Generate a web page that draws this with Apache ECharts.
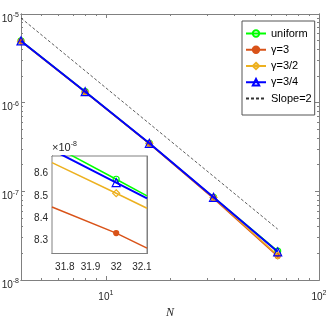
<!DOCTYPE html>
<html><head><meta charset="utf-8">
<script src="https://cdn.jsdelivr.net/npm/echarts@6/dist/echarts.min.js"></script>
<style>html,body{margin:0;padding:0;background:#fff}#c{width:332px;height:316px}</style>
</head><body><div id="c"></div>
<script>
// ---- data ----
const N = [4, 8, 16, 32, 64];
const errUniform = [4.98e-6, 1.33e-6, 3.48e-7, 8.575e-8, 2.12e-8];
const errGamma3  = [4.95e-6, 1.32e-6, 3.45e-7, 8.33e-8, 1.86e-8];
const errGamma32 = [4.90e-6, 1.32e-6, 3.46e-7, 8.51e-8, 1.90e-8];
const errGamma34 = [4.97e-6, 1.33e-6, 3.48e-7, 8.56e-8, 2.08e-8];
const slopeN   = [4, 64];
const slopeErr = [9.0e-6, 3.75e-8];
// inset (values in units of 1e-8)
const insetN       = [31.75, 32, 32.12];
const insetUniform = [8.73, 8.575, 8.50];
const insetGamma3  = [8.45, 8.332, 8.264];
const insetGamma32 = [8.65, 8.512, 8.444];
const insetGamma34 = [8.708, 8.56, 8.489];
const seriesNames = ['uniform', 'γ=3', 'γ=3/2', 'γ=3/4', 'Slope=2'];
const xMajor = [10, 100];
const yMajor = [1e-8, 1e-7, 1e-6, 1e-5];
const insetXLabels = [31.8, 31.9, 32, 32.1];
const insetYLabels = [8.3, 8.4, 8.5, 8.6];

// ---- tick helpers ----
function logMinor(lo, hi) {
  const out = [];
  for (let e = Math.floor(Math.log10(lo)); e <= Math.ceil(Math.log10(hi)); e++) {
    for (let m = 2; m <= 9; m++) {
      const v = m * Math.pow(10, e);
      if (v >= lo * 0.999 && v <= hi * 1.001) out.push(v);
    }
  }
  return out;
}
function linTicks(lo, hi, step) {
  const out = [];
  for (let k = Math.ceil(lo / step - 1e-6); k * step <= hi + 1e-9; k++) out.push(+(k * step).toFixed(4));
  return out;
}
const X_MIN = 4, X_MAX = 100, Y_MIN = 1e-8, Y_MAX = 1e-5;
const IX_MIN = 31.75, IX_MAX = 32.12, IY_MIN = 8.24, IY_MAX = 8.68;

const FONT = 'Liberation Sans';
const AXC = '#808080';
const LBL = '#262626';
const rich = {
  b: { fontSize: 10, fontFamily: FONT, color: LBL },
  s: { fontSize: 7, fontFamily: FONT, color: LBL, padding: [0, 0, 7, 0] }
};
const powFmt = v => '{b|10}{s|' + Math.round(Math.log10(v)) + '}';

function mkAxis(kind, gridIndex, type, min, max, pos, ticks, len, labels, extra) {
  const a = {
    type: type, gridIndex: gridIndex, min: min, max: max, position: pos,
    axisLine: { show: true, lineStyle: { color: AXC, width: 1 } },
    axisTick: { show: true, inside: true, length: len, customValues: ticks, lineStyle: { color: AXC, width: 1 } },
    axisLabel: labels ? Object.assign({ show: true }, labels) : { show: false },
    splitLine: { show: false }, minorTick: { show: false }, minorSplitLine: { show: false }
  };
  if (type === 'log') a.logBase = 10;
  return Object.assign(a, extra || {});
}

const xAxes = [
  mkAxis('x', 0, 'log', X_MIN, X_MAX, 'bottom', xMajor, 4,
    { customValues: xMajor, formatter: powFmt, rich: rich, margin: 10 },
    { name: 'N', nameLocation: 'middle', nameGap: 25,
      nameTextStyle: { fontFamily: 'Liberation Serif', fontStyle: 'italic', fontSize: 12, color: LBL } }),
  mkAxis('x', 0, 'log', X_MIN, X_MAX, 'bottom', logMinor(X_MIN, X_MAX), 2, null),
  mkAxis('x', 0, 'log', X_MIN, X_MAX, 'top', xMajor, 4, null),
  mkAxis('x', 0, 'log', X_MIN, X_MAX, 'top', logMinor(X_MIN, X_MAX), 2, null),
  mkAxis('x', 1, 'value', IX_MIN, IX_MAX, 'bottom', insetXLabels, 3,
    { customValues: insetXLabels, fontSize: 10, fontFamily: FONT, color: LBL, margin: 9,
      formatter: v => String(+v.toFixed(2)) }),
  mkAxis('x', 1, 'value', IX_MIN, IX_MAX, 'bottom', linTicks(IX_MIN, IX_MAX, 0.02), 2, null),
  mkAxis('x', 1, 'value', IX_MIN, IX_MAX, 'top', linTicks(IX_MIN, IX_MAX, 0.02), 2, null)
];
const yAxes = [
  mkAxis('y', 0, 'log', Y_MIN, Y_MAX, 'left', yMajor, 4,
    { customValues: yMajor, formatter: powFmt, rich: rich, margin: 2, padding: [10, 0, 0, 0] }),
  mkAxis('y', 0, 'log', Y_MIN, Y_MAX, 'left', logMinor(Y_MIN, Y_MAX), 2, null),
  mkAxis('y', 0, 'log', Y_MIN, Y_MAX, 'right', yMajor, 4, null),
  mkAxis('y', 0, 'log', Y_MIN, Y_MAX, 'right', logMinor(Y_MIN, Y_MAX), 2, null),
  mkAxis('y', 1, 'value', IY_MIN, IY_MAX, 'left', insetYLabels, 3,
    { customValues: insetYLabels, fontSize: 10, fontFamily: FONT, color: LBL, margin: 4,
      formatter: v => v.toFixed(1) },
    { name: '{t|×10}{s|-8}', nameLocation: 'end', nameGap: 1,
      nameTextStyle: { align: 'left', verticalAlign: 'bottom',
        rich: { t: { fontSize: 11, fontFamily: FONT, color: LBL }, s: { fontSize: 7, fontFamily: FONT, color: LBL, padding: [0, 0, 7, 0] } } } }),
  mkAxis('y', 1, 'value', IY_MIN, IY_MAX, 'left', linTicks(IY_MIN, IY_MAX, 0.02), 2, null),
  mkAxis('y', 1, 'value', IY_MIN, IY_MAX, 'right', linTicks(IY_MIN, IY_MAX, 0.02), 2, null)
];

const styles = [
  { color: '#00FF00', symbol: 'circle', size: 6, fill: 'rgba(255,255,255,0)', width: 1.5 },
  { color: '#D95319', symbol: 'circle', size: 5, fill: '#D95319', width: 1.5 },
  { color: '#EDB120', symbol: 'diamond', size: 7, fill: 'rgba(255,255,255,0)', width: 1.5 },
  { color: '#0000FF', symbol: 'triangle', size: 8, fill: 'rgba(255,255,255,0)', width: 2 }
];
const mainData = [errUniform, errGamma3, errGamma32, errGamma34];
const insetData = [insetUniform, insetGamma3, insetGamma32, insetGamma34];

const series = [];
mainData.forEach((arr, i) => {
  const st = styles[i];
  series.push({
    name: seriesNames[i], type: 'line', xAxisIndex: 0, yAxisIndex: 0,
    data: N.map((n, k) => [n, arr[k]]),
    symbol: st.symbol, symbolSize: st.size, showSymbol: true, z: 3 + i,
    color: st.color,
    lineStyle: { color: st.color, width: st.width },
    itemStyle: { color: st.fill, borderColor: st.color, borderWidth: 1.2 },
    animation: false, silent: true
  });
});
series.push({
  name: seriesNames[4], type: 'line', xAxisIndex: 0, yAxisIndex: 0,
  data: slopeN.map((n, k) => [n, slopeErr[k]]),
  symbol: 'none', color: '#333',
  lineStyle: { color: '#333', width: 0.8, type: [3, 2] },
  animation: false, silent: true, z: 2
});
insetData.forEach((arr, i) => {
  const st = styles[i];
  series.push({
    name: 'inset' + i, type: 'line', xAxisIndex: 4, yAxisIndex: 4,
    data: insetN.map((n, k) => [n, arr[k]]),
    symbol: (v, p) => (p.dataIndex === 1 ? st.symbol : 'none'),
    symbolSize: st.size, showSymbol: true, z: 10 + i,
    color: st.color,
    lineStyle: { color: st.color, width: st.width },
    itemStyle: { color: st.fill, borderColor: st.color, borderWidth: 1.2 },
    animation: false, silent: true, clip: true
  });
});

const legendData = seriesNames.map((n, i) => i === 4
  ? { name: n, itemStyle: { opacity: 0 } }
  : { name: n });

const chart = echarts.init(document.getElementById('c'), null, { renderer: 'canvas' });
chart.setOption({
  animation: false,
  backgroundColor: '#fff',
  grid: [
    { left: 21, top: 14, width: 298, height: 266, containLabel: false, outerBoundsMode: 'none' },
    { left: 52, top: 156, width: 95, height: 97.5, show: true, backgroundColor: '#fff', borderColor: AXC, borderWidth: 1, z: 5, containLabel: false, outerBoundsMode: 'none' }
  ],
  xAxis: xAxes,
  yAxis: yAxes,
  legend: {
    data: legendData, orient: 'vertical', left: 242, top: 21,
    itemWidth: 20, itemHeight: 8, itemGap: 5.25,
    padding: [7, 3, 11, 3],
    backgroundColor: '#fff', borderColor: '#555', borderWidth: 1,
    textStyle: { fontFamily: FONT, fontSize: 11, color: '#000' },
    selectedMode: false
  },
  series: series
});
</script></body></html>
